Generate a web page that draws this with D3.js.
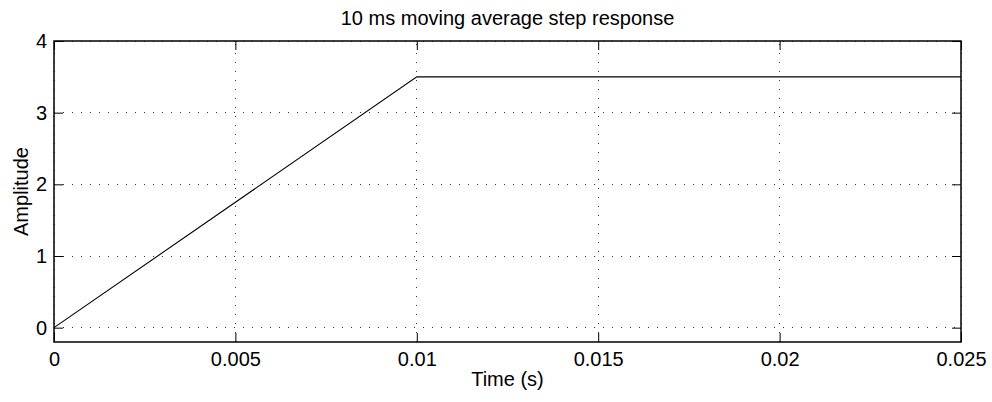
<!DOCTYPE html>
<html>
<head>
<meta charset="utf-8">
<script src="https://cdn.jsdelivr.net/npm/d3@7"></script>
<style>
  html, body { margin: 0; padding: 0; background: #fff; }
  svg { display: block; }
  text { font-family: "Liberation Sans", Arial, Helvetica, sans-serif; fill: #000; }
</style>
</head>
<body>
<svg id="chart" width="992" height="402"></svg>
<script>
// Step response of a 10 ms moving-average filter
const timeS = [0, 0.01, 0.025];
const amplitude = [0, 3.5, 3.5];

const xTicks = [0, 0.005, 0.01, 0.015, 0.02, 0.025];
const xTickLabels = ["0", "0.005", "0.01", "0.015", "0.02", "0.025"];
const yTicks = [0, 1, 2, 3, 4];
const yTickLabels = ["0", "1", "2", "3", "4"];

const titleText = "10 ms moving average step response";
const xLabel = "Time (s)";
const yLabel = "Amplitude";

const W = 992, H = 402;
const margin = { left: 54, right: 31, top: 41, bottom: 60 };
const pw = W - margin.left - margin.right;
const ph = H - margin.top - margin.bottom;
const fontSize = 20;
const tickLen = 9;

const svg = d3.select("#chart");
const g = svg.append("g").attr("transform", `translate(${margin.left},${margin.top})`);

const x = d3.scaleLinear().domain([0, 0.025]).range([0, pw]);
const y = d3.scaleLinear().domain([-0.2, 4]).range([ph, 0]);

// dotted grid
const grid = g.append("g").attr("stroke", "#333").attr("stroke-width", 1)
  .attr("stroke-dasharray", "1,8").attr("fill", "none");
xTicks.forEach(t => {
  grid.append("line").attr("x1", x(t)).attr("x2", x(t)).attr("y1", ph).attr("y2", 0)
    .attr("shape-rendering", "crispEdges");
});
yTicks.forEach(t => {
  grid.append("line").attr("x1", 0).attr("x2", pw).attr("y1", y(t)).attr("y2", y(t))
    .attr("shape-rendering", "crispEdges");
});

// data line
const line = d3.line().x((d, i) => x(timeS[i])).y(d => y(d));
g.append("path").datum(amplitude).attr("d", line)
  .attr("fill", "none").attr("stroke", "#000").attr("stroke-width", 1.1);

// axes with inward ticks on all four sides
const fmtX = (d, i) => xTickLabels[i];
const fmtY = (d, i) => yTickLabels[i];

const axB = g.append("g").attr("transform", `translate(0,${ph})`)
  .call(d3.axisBottom(x).tickValues(xTicks).tickFormat(fmtX).tickSizeInner(-tickLen).tickSizeOuter(0).tickPadding(10));
const axT = g.append("g")
  .call(d3.axisTop(x).tickValues(xTicks).tickFormat("").tickSizeInner(-tickLen).tickSizeOuter(0));
const axL = g.append("g")
  .call(d3.axisLeft(y).tickValues(yTicks).tickFormat(fmtY).tickSizeInner(-tickLen).tickSizeOuter(0).tickPadding(7));
const axR = g.append("g").attr("transform", `translate(${pw},0)`)
  .call(d3.axisRight(y).tickValues(yTicks).tickFormat("").tickSizeInner(-tickLen).tickSizeOuter(0));

[axB, axT, axL, axR].forEach(a => {
  a.select(".domain").remove();
  a.selectAll("line").attr("stroke", "#000").attr("stroke-width", 1);
  a.selectAll("text").attr("font-size", fontSize)
    .style("font-family", "'Liberation Sans', Arial, sans-serif").attr("fill", "#000");
});

// frame
g.append("rect").attr("x", 0).attr("y", 0).attr("width", pw).attr("height", ph)
  .attr("fill", "none").attr("stroke", "#000").attr("stroke-width", 1.5);

// title and axis labels
svg.append("text").attr("x", margin.left + pw / 2).attr("y", 25)
  .attr("text-anchor", "middle").attr("font-size", fontSize).text(titleText);
svg.append("text").attr("x", margin.left + pw / 2).attr("y", 386)
  .attr("text-anchor", "middle").attr("font-size", fontSize).text(xLabel);
svg.append("text").attr("transform", `translate(28,${margin.top + ph / 2}) rotate(-90)`)
  .attr("text-anchor", "middle").attr("font-size", fontSize).text(yLabel);
</script>
</body>
</html>
